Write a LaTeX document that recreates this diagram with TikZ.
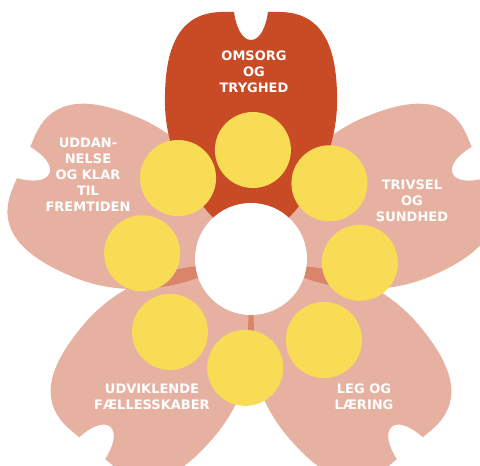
\documentclass[tikz,border=0pt]{standalone}
\usepackage{fontspec}
\setmainfont{DejaVu Sans}
\definecolor{petalred}{RGB}{200,75,37}
\definecolor{budyellow}{RGB}{249,220,85}
\begin{document}
\begin{tikzpicture}[
    x=1pt, y=1pt,
    petal/.pic={
        \fill[petalred] (0,0) -- (-44,48)
            .. controls (-64,72) and (-88,112) .. (-86,165)
            .. controls (-85,215) and (-70,246) .. (-30,247) -- (-17,247)
            .. controls (-15,232) and (-9,219) .. (0,219)
            .. controls (9,219) and (15,232) .. (17,247) -- (30,247)
            .. controls (70,246) and (85,215) .. (86,165)
            .. controls (88,112) and (64,72) .. (44,48) -- cycle;
    },
    bud/.style={circle, fill=budyellow, minimum size=76pt, inner sep=0pt},
    hub/.style={circle, fill=white, minimum size=112pt, inner sep=0pt},
    petaltext/.style={text=white, align=center,
                      font=\bfseries\fontsize{13}{16}\selectfont},
]
\useasboundingbox (0,0) rectangle (480,466);
\coordinate (c) at (251,207);
\foreach \a in {23,-50,-130,157}
    \pic[rotate=\a-90, fill opacity=.43] at (c) {petal};
\pic at (c) {petal};
\foreach \a [count=\i] in {89,44,-2,-48,-93,-138,177,132}
    \node[bud] (bud\i) at ([shift={(\a:109)}]c) {};
\node[hub] (centre) at (c) {};
\node[petaltext] (omsorg) at (254,394) {OMSORG\\OG\\TRYGHED};
\node[petaltext] (uddannelse) at (88,291) {UDDAN-\\NELSE\\OG KLAR\\TIL\\FREMTIDEN};
\node[petaltext] (trivsel) at (412,265) {TRIVSEL\\OG\\SUNDHED};
\node[petaltext] (faelles) at (152,69) {UDVIKLENDE\\FÆLLESSKABER};
\node[petaltext] (leg) at (364,69) {LEG OG\\LÆRING};
\end{tikzpicture}
\end{document}
